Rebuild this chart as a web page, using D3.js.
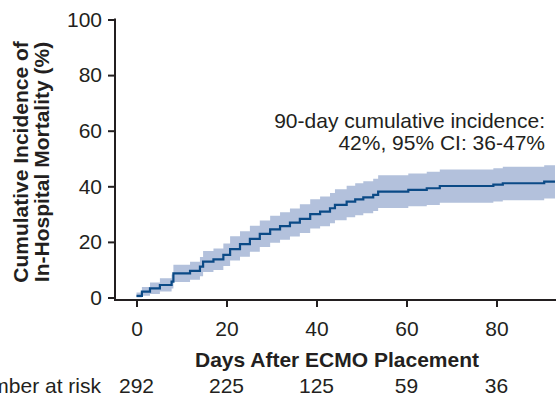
<!DOCTYPE html>
<html>
<head>
<meta charset="utf-8">
<script src="https://cdn.jsdelivr.net/npm/d3@7"></script>
<style>
  body { margin: 0; background: #fff; }
  svg { font-family: "Liberation Sans", Arial, sans-serif; }
</style>
</head>
<body>
<svg id="chart" width="556" height="397"></svg>
<script>
// step times (days) and cumulative incidence (%) with 95% CI
var days  = [0, 1.2, 3, 5.2, 7.8, 8.2, 11.9, 14.1, 14.8, 17.1, 19.3, 20.8, 23, 25.2, 27.4, 29.7, 31.9, 34.1, 36.3, 38.6, 40.8, 43, 44.1, 46.7, 48.6, 50.4, 52.6, 53.7, 60.4, 64.5, 67.4, 79.3, 81.4, 90.6, 93];
var est   = [0.6, 2.1, 3.3, 4.5, 5.7, 8.7, 9.6, 11.1, 12.9, 13.7, 15.3, 17.4, 19.2, 21.1, 22.9, 24.5, 25.7, 26.9, 28.3, 30, 30.9, 32.1, 33.3, 34.5, 35.3, 36, 36.9, 38.1, 38.7, 39.3, 40.1, 40.6, 41.1, 41.7, 41.7];
var lower = [0, 0.6, 1.3, 2.2, 3.2, 5.6, 6.4, 7.6, 9.2, 9.9, 11.3, 13.3, 14.7, 16.5, 18.2, 19.7, 20.8, 21.9, 23.2, 24.8, 25.6, 26.7, 27.8, 28.9, 29.6, 30.3, 31.1, 32.2, 32.8, 33.3, 34.1, 34.5, 35, 35.6, 35.6];
var upper = [1.8, 3.8, 5.4, 6.9, 8.3, 11.8, 12.9, 14.6, 16.7, 17.6, 19.4, 22, 23.8, 25.8, 27.7, 29.4, 30.7, 32, 33.5, 35.3, 36.3, 37.6, 38.9, 40.2, 41.1, 41.8, 42.7, 44, 44.6, 45.2, 46, 46.5, 47, 47.6, 47.6];

var xTicks = [0, 20, 40, 60, 80];
var yTicks = [0, 20, 40, 60, 80, 100];
var atRisk = [292, 225, 125, 59, 36];

var svg = d3.select("#chart");
var axisColor = "#231f20";
var fontSize = "21px";

var x = d3.scaleLinear().domain([0, 93]).range([136.5, 555]);
var y = d3.scaleLinear().domain([0, 100]).range([297.5, 19.5]);

var rows = days.map(function (d, i) {
    return {day: d, est: est[i], lo: lower[i], hi: upper[i]};
});

// confidence band
svg.append("path")
    .datum(rows)
    .attr("d", d3.area()
        .curve(d3.curveStepAfter)
        .x(function (d) { return x(d.day); })
        .y0(function (d) { return y(d.lo); })
        .y1(function (d) { return y(d.hi); }))
    .style("fill", "#b3c1dc");

// estimate line
svg.append("path")
    .datum(rows)
    .attr("d", d3.line()
        .curve(d3.curveStepAfter)
        .x(function (d) { return x(d.day); })
        .y(function (d) { return y(d.est); }))
    .style("fill", "none")
    .style("stroke", "#0b4a86")
    .style("stroke-width", 2.2);

// y axis
var yAxis = svg.append("g")
    .attr("transform", "translate(115,0)")
    .call(d3.axisLeft(y).tickValues(yTicks).tickSize(7).tickPadding(6));
yAxis.select(".domain").remove();
yAxis.append("line")
    .attr("x1", 0).attr("x2", 0)
    .attr("y1", 18.5).attr("y2", 301)
    .style("stroke", axisColor).style("stroke-width", 2);

// x axis
var xAxis = svg.append("g")
    .attr("transform", "translate(0,300)")
    .call(d3.axisBottom(x).tickValues(xTicks).tickSize(7).tickPadding(14));
xAxis.select(".domain").remove();
xAxis.append("line")
    .attr("x1", 114).attr("x2", 556)
    .attr("y1", 0).attr("y2", 0)
    .style("stroke", axisColor).style("stroke-width", 2);

svg.selectAll(".tick line").style("stroke", axisColor).style("stroke-width", 2);
svg.selectAll(".tick text")
    .style("font-size", fontSize)
    .style("fill", "#231f20")
    .style("font-family", "Liberation Sans, Arial, sans-serif");

// axis titles
svg.append("text")
    .attr("transform", "translate(28,162) rotate(-90)")
    .attr("text-anchor", "middle")
    .style("font-size", fontSize).style("font-weight", "bold").style("fill", "#231f20")
    .text("Cumulative Incidence of");
svg.append("text")
    .attr("transform", "translate(49,162) rotate(-90)")
    .attr("text-anchor", "middle")
    .style("font-size", fontSize).style("font-weight", "bold").style("fill", "#231f20")
    .text("In-Hospital Mortality (%)");

svg.append("text")
    .attr("x", 337).attr("y", 367)
    .attr("text-anchor", "middle")
    .style("font-size", fontSize).style("font-weight", "bold").style("fill", "#231f20")
    .text("Days After ECMO Placement");

// annotation
svg.append("text")
    .attr("x", 545).attr("y", 128)
    .attr("text-anchor", "end")
    .style("font-size", fontSize).style("fill", "#231f20")
    .text("90-day cumulative incidence:");
svg.append("text")
    .attr("x", 545).attr("y", 150)
    .attr("text-anchor", "end")
    .style("font-size", fontSize).style("fill", "#231f20")
    .text("42%, 95% CI: 36-47%");

// number at risk
svg.append("text")
    .attr("x", 101).attr("y", 393)
    .attr("text-anchor", "end")
    .style("font-size", fontSize).style("fill", "#231f20")
    .text("Number at risk");
svg.selectAll(".risk").data(atRisk).enter().append("text")
    .classed("risk", true)
    .attr("x", function (d, i) { return x(xTicks[i]); })
    .attr("y", 393)
    .attr("text-anchor", "middle")
    .style("font-size", fontSize).style("font-weight", "normal").style("fill", "#231f20")
    .text(function (d) { return d; });
</script>
</body>
</html>
